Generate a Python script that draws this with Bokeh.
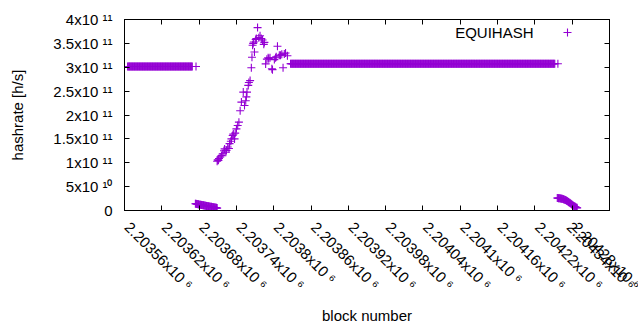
import math
from bokeh.plotting import figure
from bokeh.models import Range1d, FixedTicker, LinearAxis, Label, Legend, LegendItem
from bokeh.embed import file_html
from bokeh.resources import INLINE

# ---------------- data ----------------
# flat stretches: one point per block, constant hashrate
plateau_start = [2203565, 2203827]
plateau_end = [2203669, 2204252]
plateau_value = [3.015e11, 3.072e11]

# isolated points at plateau ends
single_block = [2203675, 2204257]
single_value = [3.015e11, 3.072e11]

# first low stretch (one point per block from drop1_start), units 1e10
drop1_start = 2203674
drop1_values = [1.42, 1.40, 1.36, 1.34, 1.31, 1.29, 1.27, 1.23, 1.21, 1.19,
                1.16, 1.13, 1.11, 1.09, 1.06, 1.03, 1.01, 0.99, 0.96, 0.94,
                0.91, 0.89, 0.86, 0.84, 0.81, 0.79, 0.76, 0.73, 0.71, 0.69,
                0.66, 0.63, 0.61, 0.58, 0.55, 0.50]

# recovery / spike region
rise_blocks = [2203709, 2203710, 2203711, 2203712, 2203714, 2203716, 2203718, 2203720,
               2203721, 2203723, 2203724, 2203726, 2203728, 2203729, 2203731, 2203732,
               2203734, 2203735, 2203737, 2203738, 2203740, 2203742, 2203744, 2203746,
               2203748, 2203751, 2203753, 2203755, 2203756, 2203757, 2203759, 2203760,
               2203762, 2203764, 2203765, 2203766, 2203767, 2203768, 2203769, 2203771,
               2203772, 2203774, 2203776, 2203778, 2203780, 2203782, 2203784, 2203785,
               2203787, 2203789, 2203791, 2203792, 2203794, 2203797, 2203798, 2203801,
               2203803, 2203804, 2203806, 2203809, 2203811, 2203813, 2203815, 2203817,
               2203819, 2203822]
rise_values = [1.03, 1.06, 1.05, 1.09, 1.12, 1.15, 1.19, 1.25,
               1.29, 1.22, 1.26, 1.33, 1.30, 1.40, 1.45, 1.50,
               1.57, 1.60, 1.50, 1.62, 1.71, 1.78, 1.85, 2.09,
               2.27, 2.48, 2.20, 2.30, 2.38, 2.48, 2.62, 2.68,
               2.72, 2.99, 3.21, 3.46, 3.50, 3.53, 3.32, 3.58,
               3.60, 3.83, 3.62, 3.66, 3.60, 3.57, 3.48, 3.52,
               3.07, 3.17, 3.20, 3.18, 3.20, 2.97, 2.95, 3.16,
               3.20, 3.22, 3.44, 3.25, 3.25, 3.27, 2.99, 3.28,
               3.30, 3.24]  # units 1e11

# second low stretch (one point per block from drop2_start), units 1e10
drop2_start = 2204256
drop2_values = [2.62, 2.60, 2.58, 2.57, 2.55, 2.52, 2.50, 2.47, 2.44, 2.40,
                2.36, 2.31, 2.26, 2.20, 2.13, 2.05, 1.97, 1.88, 1.79, 1.70,
                1.60, 1.50, 1.40, 1.30, 1.20, 1.10, 1.00, 0.92, 0.84, 0.76,
                0.68, 0.60, 0.55]

series_name = "EQUIHASH"

x_ticks = [2203560, 2203620, 2203680, 2203740, 2203800, 2203860, 2203920,
           2203980, 2204040, 2204100, 2204160, 2204220, 2204280, 2204340]
x_tick_mant = ["2.20356x10", "2.20362x10", "2.20368x10", "2.20374x10", "2.2038x10",
               "2.20386x10", "2.20392x10", "2.20398x10", "2.20404x10", "2.2041x10",
               "2.20416x10", "2.20422x10", "2.20428x10", "2.20434x10"]
x_tick_exp = ["6"] * len(x_ticks)

y_ticks = [0, 5e10, 1e11, 1.5e11, 2e11, 2.5e11, 3e11, 3.5e11, 4e11]
y_tick_mant = ["0", "5x10", "1x10", "1.5x10", "2x10", "2.5x10", "3x10", "3.5x10", "4x10"]
y_tick_exp = ["", "10", "11", "11", "11", "11", "11", "11", "11"]

x_min, x_max = 2203560, 2204340
y_min, y_max = 0, 4e11

# ---------------- assemble points ----------------
xs, ys = [], []
for a, b, v in zip(plateau_start, plateau_end, plateau_value):
    for blk in range(a, b + 1):
        xs.append(blk); ys.append(v)
xs += single_block; ys += single_value
for i, v in enumerate(drop1_values):
    xs.append(drop1_start + i); ys.append(v * 1e10)
xs += rise_blocks; ys += [v * 1e11 for v in rise_values]
for i, v in enumerate(drop2_values):
    xs.append(drop2_start + i); ys.append(v * 1e10)

SUP = str.maketrans("0123456789", "\u2070\u00b9\u00b2\u00b3\u2074\u2075\u2076\u2077\u2078\u2079")
def tick_text(m, e):
    return m if not e else f"{m} {e.translate(SUP)}"

# ---------------- figure ----------------
FONT = "Liberation Sans"
COLOR = "#9400d3"
FS = "15px"

p = figure(width=638, height=328, output_backend="svg", toolbar_location=None,
           x_range=Range1d(x_min, x_max), y_range=Range1d(y_min, y_max),
           x_axis_location=None, y_axis_location=None,
           min_border_left=124, min_border_right=29, min_border_top=19, min_border_bottom=118)
p.xgrid.visible = False
p.ygrid.visible = False
p.outline_line_color = "black"
p.outline_line_width = 1
p.background_fill_color = "white"
p.border_fill_color = "white"

xt = FixedTicker(ticks=x_ticks, minor_ticks=[])
yt = FixedTicker(ticks=y_ticks, minor_ticks=[])

common = dict(major_tick_in=5, major_tick_out=0, minor_tick_in=0, minor_tick_out=0,
              axis_line_color="black", major_tick_line_color="black",
              major_label_text_font=FONT, major_label_text_font_size=FS,
              major_label_text_color="black",
              axis_label_text_font=FONT, axis_label_text_font_size=FS,
              axis_label_text_font_style="normal", axis_label_text_color="black")

bottom = LinearAxis(ticker=xt,
                    major_label_overrides={t: "\u00a0" + tick_text(m, e)
                                           for t, m, e in zip(x_ticks, x_tick_mant, x_tick_exp)},
                    major_label_orientation=-math.pi / 4, major_label_standoff=11,
                    axis_label="block number", axis_label_standoff=5, **common)
left = LinearAxis(ticker=yt,
                  major_label_overrides={t: tick_text(m, e)
                                         for t, m, e in zip(y_ticks, y_tick_mant, y_tick_exp)},
                  major_label_standoff=12,
                  axis_label="hashrate [h/s]", axis_label_standoff=24, **common)

def mirror(ticker, ticks):
    return LinearAxis(ticker=ticker, major_label_overrides={t: "" for t in ticks},
                      major_label_text_font_size="0px", major_label_standoff=0,
                      major_tick_in=5, major_tick_out=0, minor_tick_in=0, minor_tick_out=0,
                      axis_line_color="black", major_tick_line_color="black")

p.add_layout(bottom, "below")
p.add_layout(left, "left")
p.add_layout(mirror(xt, x_ticks), "above")
p.add_layout(mirror(yt, y_ticks), "right")

r = p.scatter(xs, ys, marker="cross", size=8, line_color=COLOR, line_width=1.1)

# legend: text on the left, sample on the right (gnuplot style)
leg = Legend(items=[LegendItem(label=" ", renderers=[r])],
             location=(433, 168), glyph_width=20, glyph_height=20,
             label_width=0, label_height=20, label_standoff=0,
             label_text_font_size="1px", padding=0, margin=0, spacing=0,
             border_line_color=None, background_fill_alpha=0)
p.add_layout(leg)
p.add_layout(Label(x=409, y=178, x_units="screen", y_units="screen", text=series_name,
                   text_align="right", text_baseline="middle",
                   text_font=FONT, text_font_size=FS, text_color="black"))

open("out.html", "w").write(file_html(p, INLINE))
